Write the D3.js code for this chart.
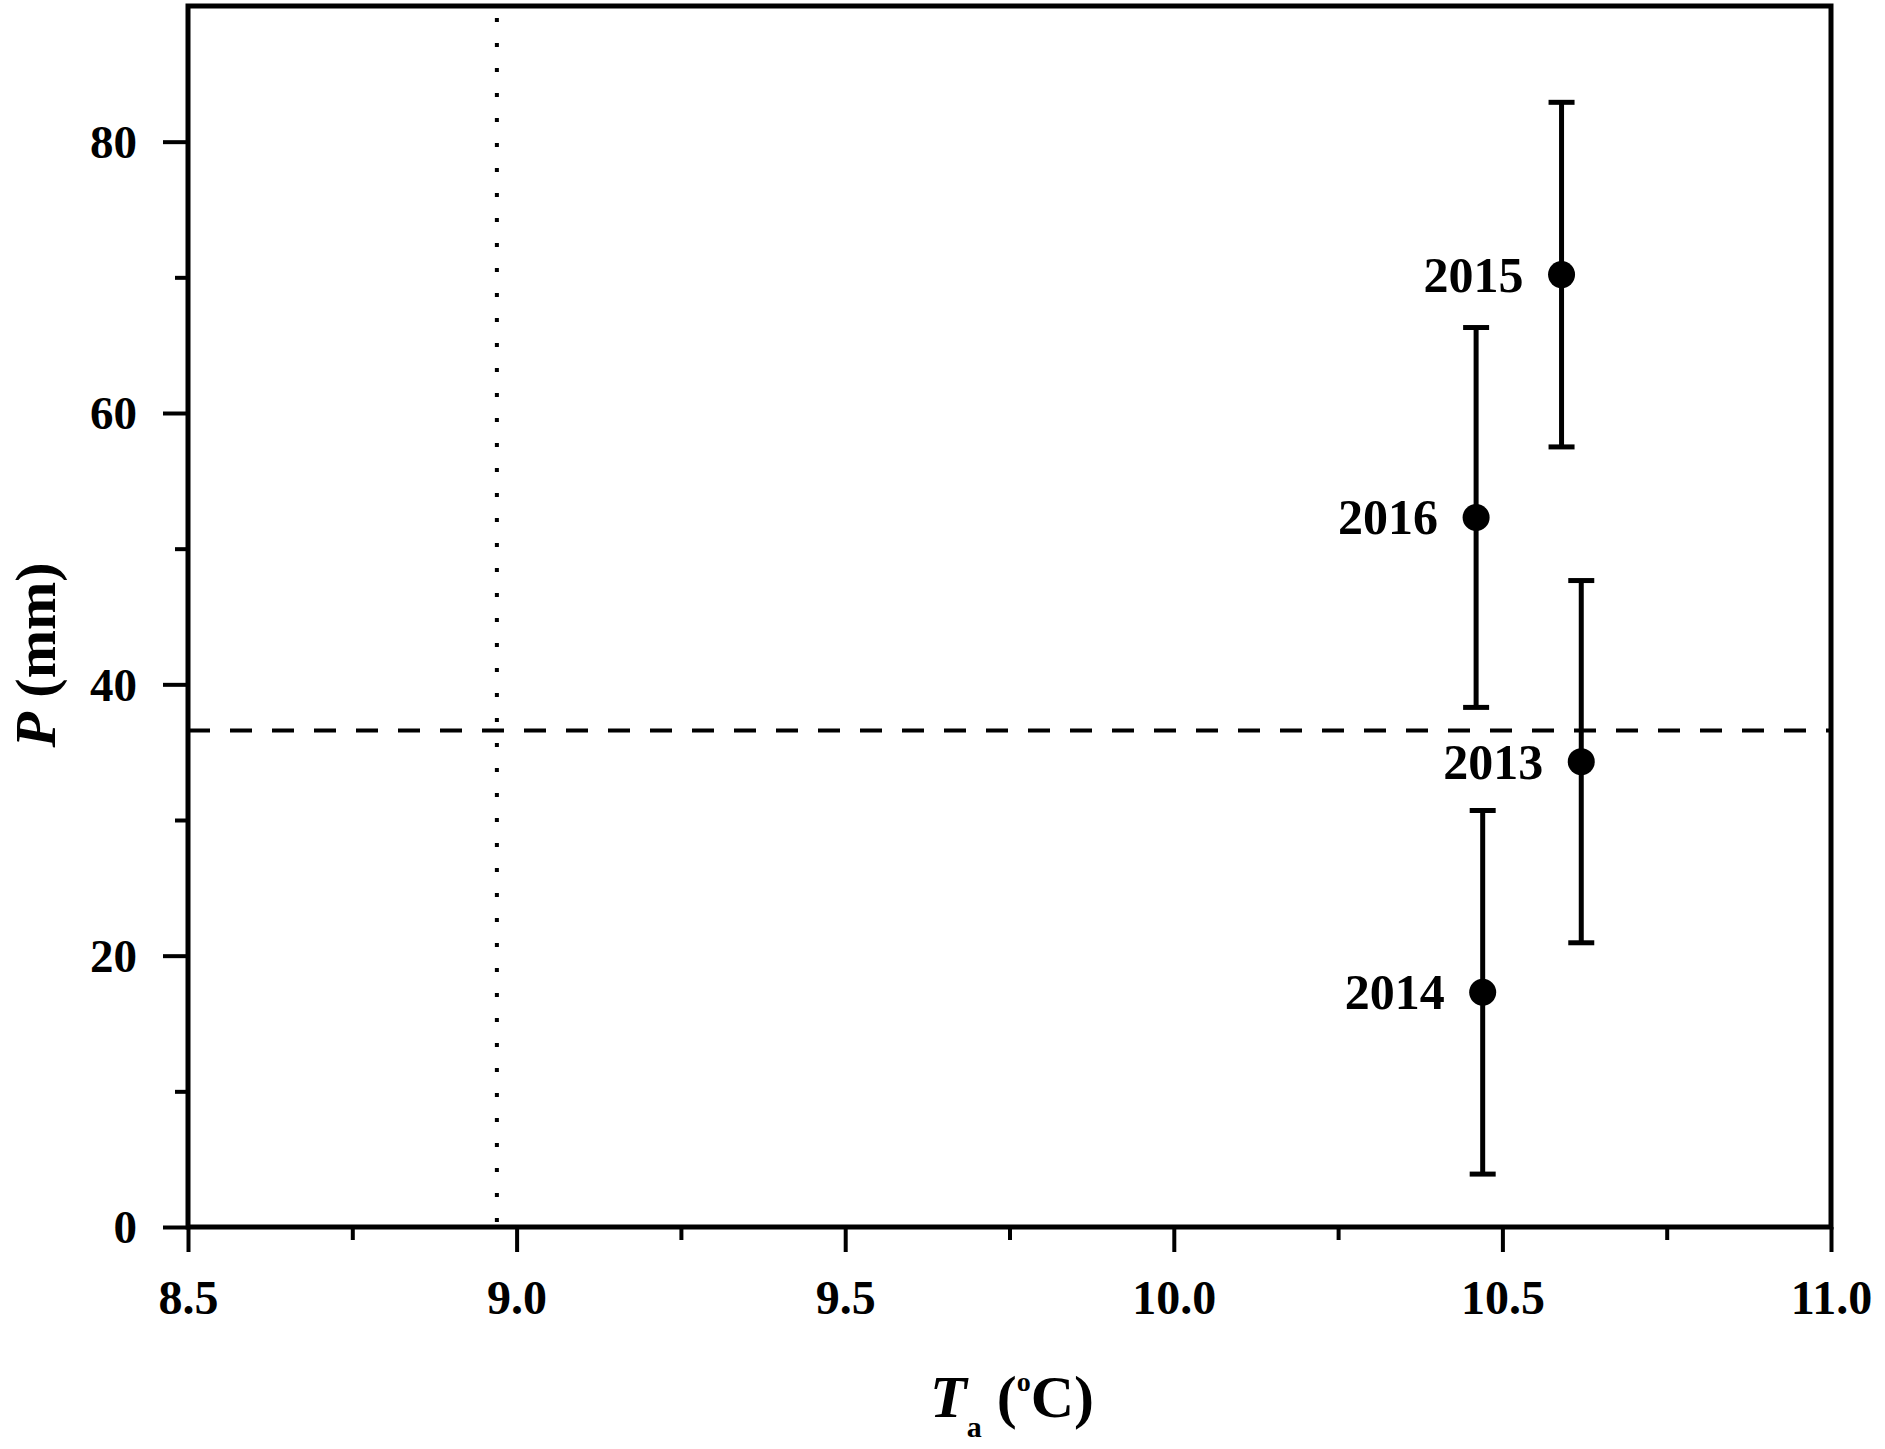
<!DOCTYPE html>
<html>
<head>
<meta charset="utf-8">
<script src="https://cdn.jsdelivr.net/npm/d3@7"></script>
<style>
  body {margin: 0; background: #fff;}
  svg text {font-family: "Liberation Serif", "Times New Roman", serif; font-weight: bold; fill: #000;}
</style>
</head>
<body>
<svg id="chart" width="1885" height="1449"></svg>
<script>
'use strict';

// data
var years = ['2013', '2014', '2015', '2016'];
var temps = [10.62, 10.47, 10.59, 10.46];
var precip = [34.3, 17.3, 70.2, 52.3];
var precipErr = [13.35, 13.4, 12.7, 14.0];

var meanTemp = 8.97;     // dotted vertical line
var meanPrecip = 36.6;   // dashed horizontal line

var xTicks = [8.5, 9.0, 9.5, 10.0, 10.5, 11.0];
var xMinor = [8.75, 9.25, 9.75, 10.25, 10.75];
var yTicks = [0, 20, 40, 60, 80];
var yMinor = [10, 30, 50, 70];

(function() {
	var svg = d3.select('#chart');
	var left = 188, right = 1831, plotTop = 6, bottom = 1227;

	var x = d3.scaleLinear().domain([8.5, 11.0]).range([left, right]);
	var y = d3.scaleLinear().domain([0, 90]).range([bottom, plotTop]);

	var fmt = d3.format('.1f');

	// frame
	svg.append('rect')
		.attr('x', left).attr('y', plotTop)
		.attr('width', right - left).attr('height', bottom - plotTop)
		.attr('fill', 'none').attr('stroke', '#000').attr('stroke-width', 5);

	// x axis
	var xAxis = svg.append('g').attr('transform', 'translate(0,' + bottom + ')')
		.call(d3.axisBottom(x).tickValues(xTicks).tickFormat(fmt).tickSize(25).tickPadding(28));
	xAxis.append('g').call(d3.axisBottom(x).tickValues(xMinor).tickFormat('').tickSize(13));

	// y axis
	var yAxis = svg.append('g').attr('transform', 'translate(' + left + ',0)')
		.call(d3.axisLeft(y).tickValues(yTicks).tickFormat(d3.format('d')).tickSize(25).tickPadding(26));
	yAxis.append('g').call(d3.axisLeft(y).tickValues(yMinor).tickFormat('').tickSize(13));

	svg.selectAll('.domain').remove();
	svg.selectAll('.tick line').attr('stroke', '#000').attr('stroke-width', 4);
	xAxis.selectAll('.tick text').style('font-size', '48px').attr('dy', '0.71em');
	yAxis.selectAll('.tick text').style('font-size', '47px').attr('dy', '0.34em');

	// reference lines
	svg.append('line')
		.attr('x1', x(meanTemp)).attr('x2', x(meanTemp))
		.attr('y1', plotTop + 12).attr('y2', bottom)
		.attr('stroke', '#000').attr('stroke-width', 4)
		.attr('stroke-dasharray', '4 21');

	svg.append('line')
		.attr('x1', left).attr('x2', right)
		.attr('y1', y(meanPrecip)).attr('y2', y(meanPrecip))
		.attr('stroke', '#000').attr('stroke-width', 4)
		.attr('stroke-dasharray', '22 20');

	// error bars
	var pts = years.map(function(yr, i) {
		return {year: yr, t: temps[i], p: precip[i], e: precipErr[i]};});

	var bars = svg.append('g').selectAll('g').data(pts).join('g');
	bars.append('line')
		.attr('x1', function(d) {return x(d.t);})
		.attr('x2', function(d) {return x(d.t);})
		.attr('y1', function(d) {return y(d.p - d.e);})
		.attr('y2', function(d) {return y(d.p + d.e);})
		.attr('stroke', '#000').attr('stroke-width', 5);
	[-1, 1].forEach(function(s) {
		bars.append('line')
			.attr('x1', function(d) {return x(d.t) - 13;})
			.attr('x2', function(d) {return x(d.t) + 13;})
			.attr('y1', function(d) {return y(d.p + s * d.e);})
			.attr('y2', function(d) {return y(d.p + s * d.e);})
			.attr('stroke', '#000').attr('stroke-width', 5);});
	bars.append('circle')
		.attr('cx', function(d) {return x(d.t);})
		.attr('cy', function(d) {return y(d.p);})
		.attr('r', 13.5).attr('fill', '#000');
	bars.append('text')
		.attr('x', function(d) {return x(d.t) - 38;})
		.attr('y', function(d) {return y(d.p) + 17;})
		.attr('text-anchor', 'end')
		.style('font-size', '50px')
		.text(function(d) {return d.year;});

	// axis titles
	var xt = svg.append('text').attr('x', 930).attr('y', 1417).style('font-size', '60px');
	xt.append('tspan').attr('font-style', 'italic').text('T');
	xt.append('tspan').attr('dy', 20).style('font-size', '30px').text('a');
	xt.append('tspan').attr('dy', -20).text(' (');
	xt.append('tspan').attr('dy', -26).style('font-size', '28px').text('o');
	xt.append('tspan').attr('dy', 26).text('C)');

	var yt = svg.append('text')
		.attr('transform', 'translate(55,655) rotate(-90)')
		.attr('text-anchor', 'middle')
		.style('font-size', '58px');
	yt.append('tspan').attr('font-style', 'italic').text('P');
	yt.append('tspan').text(' (mm)');
})();
</script>
</body>
</html>
